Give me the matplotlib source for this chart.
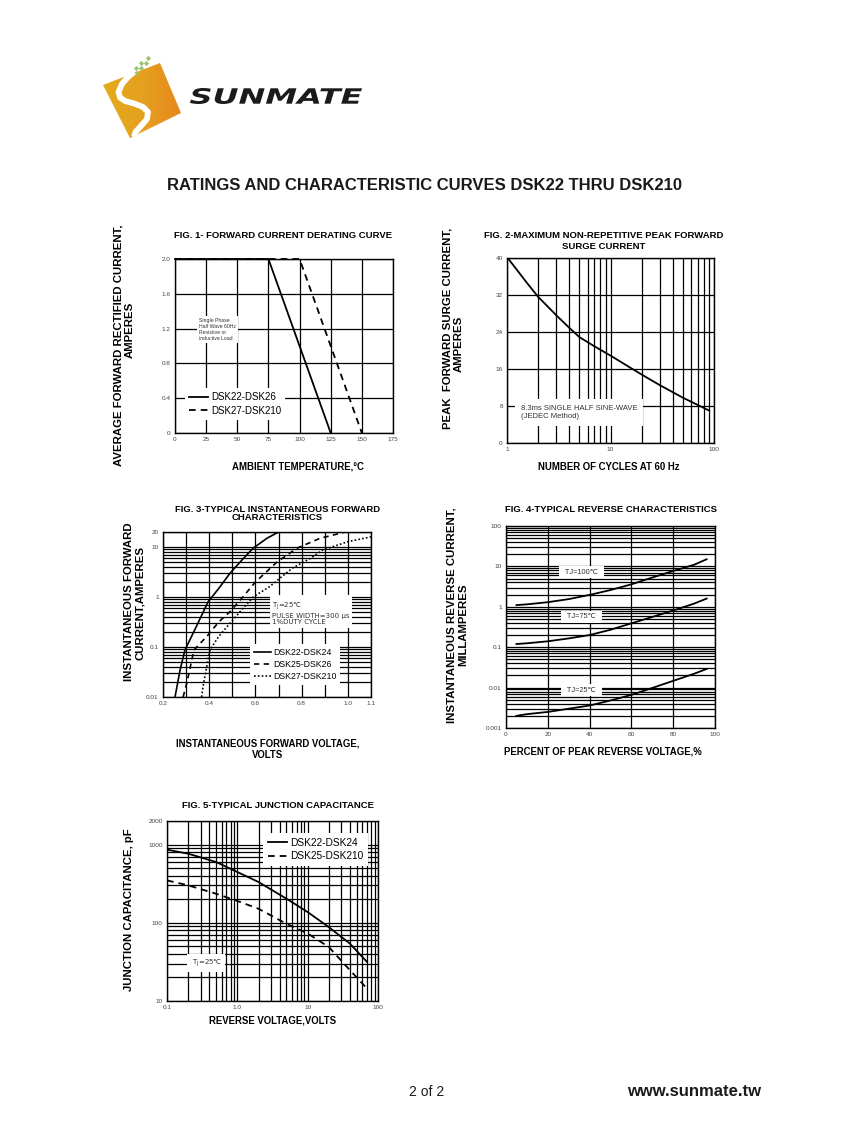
import numpy as np
import matplotlib.pyplot as plt
from matplotlib.patches import Polygon, PathPatch
from matplotlib.textpath import TextPath
from matplotlib.font_manager import FontProperties
from matplotlib.transforms import Affine2D
from matplotlib.colors import LinearSegmentedColormap
from matplotlib.ticker import LogLocator, NullFormatter

W, H = 847, 1125

plt.rcParams['font.family'] = ['Liberation Sans', 'DejaVu Sans']

# ---- FIG 1: derating curve
F1_TEMP_26 = [0, 75, 125]
F1_AMPS_26 = [2.0, 2.0, 0.0]
F1_TEMP_210 = [0, 100, 150]
F1_AMPS_210 = [2.0, 2.0, 0.0]
F1_XTICKS = [0, 25, 50, 75, 100, 125, 150, 175]
F1_YTICKS = [0, 0.4, 0.8, 1.2, 1.6, 2.0]
F1_YLABELS = ['0', '0.4', '0.8', '1.2', '1.6', '2.0']

# ---- FIG 2: surge current
F2_CYCLES = [1, 1.25, 1.56, 2, 3, 4, 5, 7, 10, 14, 20, 30, 50, 70, 90]
F2_AMPS = [40.2, 37.4, 34.6, 31.6, 27.6, 24.9, 22.9, 20.9, 18.9, 16.9, 14.8, 12.5, 9.8, 8.2, 7.0]
F2_XTICKS = [1, 10, 100]
F2_YTICKS = [0, 8, 16, 24, 32, 40]

# ---- FIG 3: forward characteristics
F3_V_24 = [0.252, 0.274, 0.295, 0.343, 0.395, 0.442, 0.49, 0.54, 0.59, 0.65, 0.70]
F3_I_24 = [0.01, 0.035, 0.087, 0.25, 0.80, 1.5, 3.0, 5.4, 9.5, 15, 20]
F3_V_26 = [0.287, 0.303, 0.334, 0.393, 0.442, 0.49, 0.542, 0.60, 0.693, 0.78, 0.88, 0.99]
F3_I_26 = [0.01, 0.019, 0.087, 0.17, 0.32, 0.51, 0.96, 2.0, 5.0, 9.5, 15, 20]
F3_V_210 = [0.367, 0.373, 0.389, 0.403, 0.44, 0.49, 0.54, 0.59, 0.66, 0.76, 0.84, 0.89, 1.0, 1.1]
F3_I_210 = [0.01, 0.016, 0.04, 0.087, 0.16, 0.3, 0.55, 1.0, 1.6, 3.8, 6.0, 8.7, 12.8, 16]
F3_XTICKS = [0.2, 0.3, 0.4, 0.5, 0.6, 0.7, 0.8, 0.9, 1.0, 1.1]
F3_XLABELS = ['0.2', '', '0.4', '', '0.6', '', '0.8', '', '1.0', '1.1']
F3_YTICKS = [0.01, 0.1, 1, 10, 20]
F3_YLABELS = ['0.01', '0.1', '1', '10', '20']

# ---- FIG 4: reverse characteristics
F4_PCT = [5, 10, 20, 30, 40, 50, 60, 70, 80, 90, 96]
F4_IR_100 = [1.1, 1.15, 1.3, 1.55, 1.97, 2.6, 3.6, 5.3, 7.7, 11, 15]
F4_IR_75 = [0.12, 0.125, 0.14, 0.165, 0.2, 0.27, 0.39, 0.56, 0.81, 1.2, 1.6]
F4_IR_25 = [0.002, 0.0022, 0.0025, 0.003, 0.0036, 0.0048, 0.0066, 0.0098, 0.0147, 0.022, 0.029]
F4_XTICKS = [0, 20, 40, 60, 80, 100]
F4_YTICKS = [0.001, 0.01, 0.1, 1, 10, 100]
F4_YLABELS = ['0.001', '0.01', '0.1', '1', '10', '100']

# ---- FIG 5: junction capacitance
F5_VR = [0.1, 0.2, 0.5, 1, 2, 5, 10, 20, 40, 70]
F5_CJ_24 = [860, 764, 598, 446, 332, 203, 137, 88, 54, 31.5]
F5_CJ_210 = [348, 301, 235, 190, 151, 97, 73, 49, 24.7, 14.4]
F5_XTICKS = [0.1, 1, 10, 100]
F5_XLABELS = ['0.1', '1.0', '10', '100']
F5_YTICKS = [10, 100, 1000, 2000]
F5_YLABELS = ['10', '100', '1000', '2000']

fig = plt.figure(figsize=(W / 100, H / 100), dpi=100)

page = fig.add_axes([0, 0, 1, 1])
page.axis('off')


def make_axes(l, t, r, b):
    return fig.add_axes([l / W, 1 - b / H, (r - l) / W, (b - t) / H])


def style_axes(ax):
    for sp in ax.spines.values():
        sp.set_linewidth(1.0)
        sp.set_color('black')
    ax.tick_params(which='both', length=0, labelsize=4.6, labelcolor='#444444', pad=3)
    ax.set_axisbelow(True)


def grid(axis, which='major'):
    axis.grid(True, which=which, color='black', linewidth=0.9)


def note_box(pad=0.3):
    return dict(boxstyle='square,pad=%s' % pad, facecolor='white', edgecolor='none')


def put_legend(ax, anchor, size):
    ax.legend(loc='lower left', bbox_to_anchor=anchor, borderaxespad=0,
              frameon=True, fancybox=False, edgecolor='none', facecolor='white',
              framealpha=1, fontsize=size, handlelength=1.9, handletextpad=0.3,
              labelspacing=0.35, borderpad=0.45)


def ptext(x, y, s, **kw):
    kw.setdefault('ha', 'center')
    kw.setdefault('va', 'center')
    page.text(x, y, s, **kw)


# ---- header: logo + title
grad = np.linspace(0, 1, 100).reshape(1, -1)
logo_cmap = LinearSegmentedColormap.from_list('logo', ['#e2ac1c', '#e6a01f', '#e5861c'])
poly = Polygon([(103, 85), (160, 63), (181, 113), (130, 138)], closed=True,
               facecolor='none', edgecolor='none', transform=page.transData)
page.add_patch(poly)
img = page.imshow(grad, extent=(100, 184, 140, 60), cmap=logo_cmap, aspect='auto')
img.set_clip_path(poly)
page.set_xlim(0, W)
page.set_ylim(H, 0)

ribbon_x = [134, 128, 122, 118.5, 120, 125, 134, 143, 148, 147, 141, 135.5, 134]
ribbon_y = [72, 77, 84, 92, 97.5, 101, 103.5, 107, 112, 119, 126, 132, 137]
page.plot(ribbon_x, ribbon_y, color='white', lw=4.2, solid_capstyle='butt', solid_joinstyle='round')
dots_x = [148, 141, 146, 136, 141, 131, 136]
dots_y = [58, 63, 63, 68, 68, 73, 73]
page.scatter(dots_x, dots_y, marker='D', s=7, color='#9cc36e', linewidths=0)

fp = FontProperties(family='DejaVu Sans', weight='bold', style='italic')
tp = TextPath((0, 0), 'SUNMATE', size=1, prop=fp)
ext = tp.get_extents()
tr = Affine2D().translate(-ext.x0, -ext.y0).scale(172 / ext.width, -16 / ext.height).translate(190, 104)
page.add_patch(PathPatch(tr.transform_path(tp), facecolor='#1b1b1b', edgecolor='none'))

ptext(424.5, 186, 'RATINGS AND CHARACTERISTIC CURVES DSK22 THRU DSK210',
      fontsize=12, weight='bold', color='#1a1a1a')

# ---- FIG 1
ax1 = make_axes(175, 259, 393, 433)
style_axes(ax1)
ax1.plot(F1_TEMP_26, F1_AMPS_26, color='black', lw=1.3, label='DSK22-DSK26', clip_on=False)
ax1.plot(F1_TEMP_210, F1_AMPS_210, color='black', lw=1.3, dashes=(3.7, 2.8),
         label='DSK27-DSK210', clip_on=False)
ax1.set_xlim(0, 175)
ax1.set_ylim(0, 2.0)
ax1.set_xticks(F1_XTICKS)
ax1.set_yticks(F1_YTICKS)
ax1.set_yticklabels(F1_YLABELS)
grid(ax1)
ax1.text(0.11, 0.66, 'Single Phase\nHalf Wave 60Hz\nResistive or\ninductive Load',
         transform=ax1.transAxes, ha='left', va='top', fontsize=3.7, color='#333333',
         linespacing=1.25, bbox=note_box(0.4))
put_legend(ax1, (0.046, 0.075), 7.0)

ptext(283.5, 236, 'FIG. 1- FORWARD CURRENT DERATING CURVE', fontsize=6.8, weight='bold')
ptext(297.5, 466.5, 'AMBIENT TEMPERATURE,°C', fontsize=6.9, weight='bold')
ptext(118.5, 345, 'AVERAGE FORWARD RECTIFIED CURRENT,', rotation=90, fontsize=8.2, weight='bold')
ptext(129.5, 330, 'AMPERES', rotation=90, fontsize=8.2, weight='bold')

# ---- FIG 2
ax2 = make_axes(507, 258, 714, 443)
style_axes(ax2)
ax2.plot(F2_CYCLES, F2_AMPS, color='black', lw=1.3)
ax2.set_xscale('log')
ax2.set_xlim(1, 100)
ax2.set_ylim(0, 40)
ax2.set_xticks(F2_XTICKS)
ax2.set_xticklabels([str(v) for v in F2_XTICKS])
ax2.xaxis.set_minor_locator(LogLocator(subs=range(2, 10)))
ax2.xaxis.set_minor_formatter(NullFormatter())
ax2.set_yticks(F2_YTICKS)
ax2.xaxis.grid(True, which='both', color='black', linewidth=0.9)
ax2.yaxis.grid(True, which='major', color='black', linewidth=0.9)
ax2.text(0.068, 0.165, '8.3ms SINGLE HALF SINE-WAVE\n(JEDEC Method)', transform=ax2.transAxes,
         ha='left', va='center', fontsize=5.5, color='#333333', linespacing=1.15,
         bbox=note_box(0.75))

ptext(603.5, 236, 'FIG. 2-MAXIMUM NON-REPETITIVE PEAK FORWARD', fontsize=6.8, weight='bold')
ptext(603.5, 246.5, 'SURGE CURRENT', fontsize=6.8, weight='bold')
ptext(608.5, 467.5, 'NUMBER OF CYCLES AT 60 Hz', fontsize=6.9, weight='bold')
ptext(447.5, 328, 'PEAK  FORWARD SURGE CURRENT,', rotation=90, fontsize=8.2, weight='bold')
ptext(459, 343.5, 'AMPERES', rotation=90, fontsize=8.2, weight='bold')

# ---- FIG 3
ax3 = make_axes(163, 532, 371, 697)
style_axes(ax3)
ax3.plot(F3_V_24, F3_I_24, color='black', lw=1.2, label='DSK22-DSK24')
ax3.plot(F3_V_26, F3_I_26, color='black', lw=1.2, dashes=(3.2, 2.6), label='DSK25-DSK26')
ax3.plot(F3_V_210, F3_I_210, color='black', lw=1.2, dashes=(1.0, 1.3), label='DSK27-DSK210')
ax3.set_yscale('log')
ax3.set_xlim(0.2, 1.1)
ax3.set_ylim(0.01, 20)
ax3.set_xticks(F3_XTICKS)
ax3.set_xticklabels(F3_XLABELS)
ax3.set_yticks(F3_YTICKS)
ax3.set_yticklabels(F3_YLABELS)
ax3.yaxis.set_minor_locator(LogLocator(subs=range(2, 10)))
ax3.yaxis.set_minor_formatter(NullFormatter())
ax3.xaxis.grid(True, which='major', color='black', linewidth=0.9)
ax3.yaxis.grid(True, which='both', color='black', linewidth=0.9)
ax3.text(0.524, 0.509, 'T$_\\mathregular{J}$=25℃\nPULSE WIDTH=300 μs\n1%DUTY CYCLE',
         transform=ax3.transAxes, ha='left', va='center', fontsize=5.0, color='#333333',
         family='DejaVu Sans', linespacing=1.1, bbox=note_box(0.35))
put_legend(ax3, (0.418, 0.073), 6.3)

ptext(277.5, 509, 'FIG. 3-TYPICAL INSTANTANEOUS FORWARD', fontsize=6.8, weight='bold')
ptext(277.5, 518, 'CHARACTERISTICS', fontsize=6.8, weight='bold')
ptext(268, 744, 'INSTANTANEOUS FORWARD VOLTAGE,', fontsize=6.9, weight='bold')
ptext(268, 754.5, 'VOLTS', fontsize=6.9, weight='bold')
ptext(128.5, 602, 'INSTANTANEOUS FORWARD', rotation=90, fontsize=8.2, weight='bold')
ptext(140, 603, 'CURRENT,AMPERES', rotation=90, fontsize=8.2, weight='bold')

# ---- FIG 4
ax4 = make_axes(506, 526, 715, 728)
style_axes(ax4)
ax4.plot(F4_PCT, F4_IR_100, color='black', lw=1.3)
ax4.plot(F4_PCT, F4_IR_75, color='black', lw=1.3)
ax4.plot(F4_PCT, F4_IR_25, color='black', lw=1.3)
ax4.set_yscale('log')
ax4.set_xlim(0, 100)
ax4.set_ylim(0.001, 100)
ax4.set_xticks(F4_XTICKS)
ax4.set_yticks(F4_YTICKS)
ax4.set_yticklabels(F4_YLABELS)
ax4.yaxis.set_minor_locator(LogLocator(subs=range(2, 10)))
ax4.yaxis.set_minor_formatter(NullFormatter())
ax4.xaxis.grid(True, which='major', color='black', linewidth=0.9)
ax4.yaxis.grid(True, which='both', color='black', linewidth=0.9)
for yy, lab in [(0.772, 'TJ=100℃'), (0.55, 'TJ=75℃'), (0.188, 'TJ=25℃')]:
    ax4.text(0.36, yy, '  ' + lab + '  ', transform=ax4.transAxes, ha='center', va='center',
             fontsize=5.3, color='#333333', bbox=note_box(0.3))

ptext(611, 509, 'FIG. 4-TYPICAL REVERSE CHARACTERISTICS', fontsize=6.8, weight='bold')
ptext(602.5, 752, 'PERCENT OF PEAK REVERSE VOLTAGE,%', fontsize=6.9, weight='bold')
ptext(452, 615, 'INSTANTANEOUS REVERSE CURRENT,', rotation=90, fontsize=8.2, weight='bold')
ptext(463, 625, 'MILLAMPERES', rotation=90, fontsize=8.2, weight='bold')

# ---- FIG 5
ax5 = make_axes(167, 821, 378, 1001)
style_axes(ax5)
ax5.plot(F5_VR, F5_CJ_24, color='black', lw=1.3, label='DSK22-DSK24')
ax5.plot(F5_VR, F5_CJ_210, color='black', lw=1.3, dashes=(3.7, 2.8), label='DSK25-DSK210')
ax5.set_xscale('log')
ax5.set_yscale('log')
ax5.set_xlim(0.1, 100)
ax5.set_ylim(10, 2000)
ax5.set_xticks(F5_XTICKS)
ax5.set_xticklabels(F5_XLABELS)
ax5.set_yticks(F5_YTICKS)
ax5.set_yticklabels(F5_YLABELS)
for axis in (ax5.xaxis, ax5.yaxis):
    axis.set_minor_locator(LogLocator(subs=range(2, 10)))
    axis.set_minor_formatter(NullFormatter())
grid(ax5, 'both')
ax5.text(0.185, 0.211, ' T$_\\mathregular{J}$=25℃ ', transform=ax5.transAxes, ha='center',
         va='center', fontsize=5.0, color='#333333', family='DejaVu Sans',
         bbox=note_box(0.4))
put_legend(ax5, (0.455, 0.75), 7.3)

ptext(277.5, 805.5, 'FIG. 5-TYPICAL JUNCTION CAPACITANCE', fontsize=6.8, weight='bold')
ptext(272.5, 1020.5, 'REVERSE VOLTAGE,VOLTS', fontsize=6.9, weight='bold')
ptext(129, 910, 'JUNCTION CAPACITANCE, pF', rotation=90, fontsize=8.2, weight='bold')

# ---- footer
ptext(427, 1092, '2 of 2', fontsize=10, color='#1a1a1a')
ptext(694.5, 1092, 'www.sunmate.tw', fontsize=12, weight='bold', color='#1a1a1a')

fig.savefig('out.png', dpi=100)
